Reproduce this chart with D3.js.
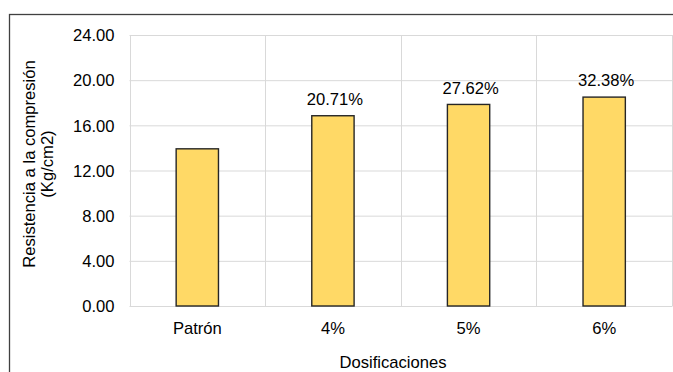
<!DOCTYPE html>
<html>
<head>
<meta charset="utf-8">
<script src="https://cdn.jsdelivr.net/npm/d3@7"></script>
<style>
  html, body { margin: 0; padding: 0; background: #fff; overflow: hidden; }
  svg { display: block; }
  text { font-family: "Liberation Sans", Arial, sans-serif; fill: #000; }
</style>
</head>
<body>
<svg id="chart" width="673" height="372"></svg>
<script>
const categories = ["Patrón", "4%", "5%", "6%"];
const values = [13.92, 16.85, 17.85, 18.50];
const pctLabels = ["", "20.71%", "27.62%", "32.38%"];
const yTicks = [0, 4, 8, 12, 16, 20, 24];
const yTitleLines = ["Resistencia a la compresión", "(Kg/cm2)"];
const xTitle = "Dosificaciones";

(function () {
const svg = d3.select("#chart");
const fs = 16.6;

// outer chart border
svg.append("rect")
  .attr("x", 9.5).attr("y", 14.5)
  .attr("width", 700).attr("height", 400)
  .attr("fill", "none").attr("stroke", "#404040").attr("stroke-width", 1.3);

const pL = 129.5, pR = 672, pT = 35, pB = 306;
const x = d3.scaleBand().domain(categories).range([pL, pR]).padding(0);
const y = d3.scaleLinear().domain([0, 24]).range([pB, pT]);

// horizontal gridlines
const yAxis = d3.axisLeft(y).tickValues(yTicks)
  .tickSize(-(pR - pL)).tickFormat(d3.format(".2f")).tickPadding(15);
const gy = svg.append("g").attr("transform", `translate(${pL},0)`).call(yAxis);
gy.select(".domain").remove();
gy.selectAll(".tick line").attr("stroke", "#d9d9d9").attr("stroke-width", 1);
gy.selectAll(".tick text").attr("font-size", fs).attr("dy", "0.35em")
  .attr("font-family", "Liberation Sans, Arial, sans-serif").attr("fill", "#000");

// vertical gridlines at category boundaries
const bounds = categories.map(c => x(c)).concat([pR]);
svg.append("g").selectAll("line").data(bounds).join("line")
  .attr("x1", d => Math.round(d) + 0.5).attr("x2", d => Math.round(d) + 0.5)
  .attr("y1", pT).attr("y2", pB)
  .attr("stroke", "#d9d9d9").attr("stroke-width", 1);

// x axis labels
const xAxis = d3.axisBottom(x).tickSize(0).tickPadding(16);
const gx = svg.append("g").attr("transform", `translate(0,${pB})`).call(xAxis);
gx.select(".domain").attr("stroke", "#d9d9d9");
gx.selectAll(".tick text").attr("font-size", fs)
  .attr("font-family", "Liberation Sans, Arial, sans-serif").attr("fill", "#000");

// bars
const bw = x.bandwidth() * 0.312;
svg.append("g").selectAll("rect").data(values).join("rect")
  .attr("x", (d, i) => x(categories[i]) + (x.bandwidth() - bw) / 2)
  .attr("y", d => y(d))
  .attr("width", bw)
  .attr("height", d => y(0) - y(d))
  .attr("fill", "#ffd966")
  .attr("stroke", "#262626")
  .attr("stroke-width", 1.4);

// percentage labels
svg.append("g").selectAll("text").data(values).join("text")
  .attr("x", (d, i) => x(categories[i]) + x.bandwidth() / 2 + 2)
  .attr("y", d => y(d) - 10.7)
  .attr("text-anchor", "middle")
  .attr("font-size", fs)
  .text((d, i) => pctLabels[i]);

// y title
const yt = svg.append("text")
  .attr("transform", "translate(35,164) rotate(-90)")
  .attr("text-anchor", "middle")
  .attr("font-size", fs);
yTitleLines.forEach((t, i) => {
  yt.append("tspan").attr("x", 0).attr("dy", i === 0 ? 0 : 17.5).text(t);
});

// x title
svg.append("text")
  .attr("x", 393).attr("y", 367.5)
  .attr("text-anchor", "middle")
  .attr("font-size", fs)
  .text(xTitle);
})();
</script>
</body>
</html>
